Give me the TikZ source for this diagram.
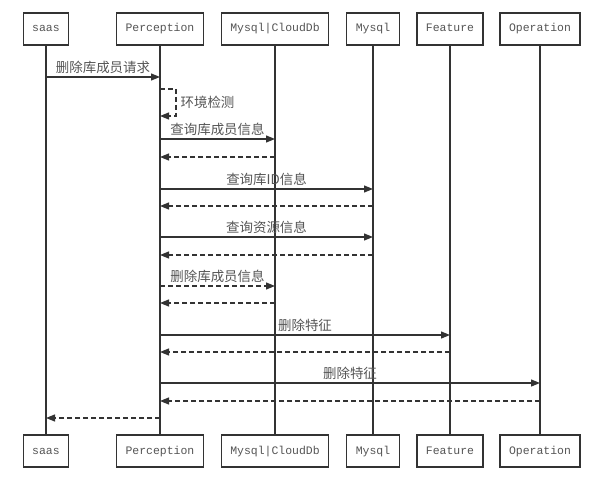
\documentclass[tikz,border=0pt]{standalone}
\usepackage{fontspec}
\setmonofont{Liberation Mono}
\newfontfamily\cjk{Noto Sans CJK SC}
\definecolor{lineGray}{HTML}{333333}
\definecolor{textGray}{HTML}{555555}
\usepackage{tikz}
\usetikzlibrary{arrows.meta, positioning}

\begin{document}
\begin{tikzpicture}[x=1bp, y=-1bp,
    actor/.style={draw=lineGray, line width=1.2bp, fill=white, minimum height=32bp, inner xsep=9bp,
      text height=8.5bp, text depth=2.5bp, text=textGray, font=\fontsize{11.5}{13}\ttfamily},
    life/.style={draw=lineGray, line width=1.2bp},
    msg/.style={draw=lineGray, line width=1.2bp, -{Triangle[length=9bp, width=7bp]}},
    ret/.style={msg, dashed, dash pattern=on 5bp off 3bp},
    lbl/.style={text=textGray, font=\fontsize{13.5}{15}\cjk, inner sep=1bp}]
  \useasboundingbox[fill=white] (0,0) rectangle (612,489);

  % participants, top row
  \node[actor] (saas)  at (46,29)  {saas};
  \node[actor] (perc)  at (160,29) {Perception};
  \node[actor] (cloud) at (275,29) {Mysql|CloudDb};
  \node[actor] (mysql) at (373,29) {Mysql};
  \node[actor] (feat)  at (450,29) {Feature};
  \node[actor] (oper)  at (540,29) {Operation};

  % participants, bottom row
  \node[actor] (saasB)  at (46,451)  {saas};
  \node[actor] (percB)  at (160,451) {Perception};
  \node[actor] (cloudB) at (275,451) {Mysql|CloudDb};
  \node[actor] (mysqlB) at (373,451) {Mysql};
  \node[actor] (featB)  at (450,451) {Feature};
  \node[actor] (operB)  at (540,451) {Operation};

  % lifelines
  \foreach \p in {saas, perc, cloud, mysql, feat, oper}
    \draw[life] (\p.south) -- (\p B.north);

  % message levels
  \foreach \n/\y in {m1/77, s1/89, s2/116, m2/139, r2/157, m3/189, r3/206, m4/237, r4/255,
                     m5/286, r5/303, m6/335, r6/352, m7/383, r7/401, r8/418}
    \coordinate (\n) at (0,\y);
  \coordinate (loopX) at (176,0);

  % request from saas
  \draw[msg] (saas |- m1) -- node[lbl, above=2bp] {删除库成员请求} (perc |- m1);

  % self check
  \draw[ret] (perc |- s1) -- (loopX |- s1) -- node[lbl, right=3bp] {环境检测} (loopX |- s2) -- (perc |- s2);

  % queries
  \draw[msg] (perc |- m2) -- node[lbl, above=2bp] {查询库成员信息} (cloud |- m2);
  \draw[ret] (cloud |- r2) -- (perc |- r2);
  \draw[msg] (perc |- m3) -- node[lbl, above=2bp] {查询库ID信息} (mysql |- m3);
  \draw[ret] (mysql |- r3) -- (perc |- r3);
  \draw[msg] (perc |- m4) -- node[lbl, above=2bp] {查询资源信息} (mysql |- m4);
  \draw[ret] (mysql |- r4) -- (perc |- r4);

  % deletions
  \draw[ret] (perc |- m5) -- node[lbl, above=2bp] {删除库成员信息} (cloud |- m5);
  \draw[ret] (cloud |- r5) -- (perc |- r5);
  \draw[msg] (perc |- m6) -- node[lbl, above=2bp] {删除特征} (feat |- m6);
  \draw[ret] (feat |- r6) -- (perc |- r6);
  \draw[msg] (perc |- m7) -- node[lbl, above=2bp] {删除特征} (oper |- m7);
  \draw[ret] (oper |- r7) -- (perc |- r7);

  % reply to saas
  \draw[ret] (perc |- r8) -- (saas |- r8);
\end{tikzpicture}
\end{document}
